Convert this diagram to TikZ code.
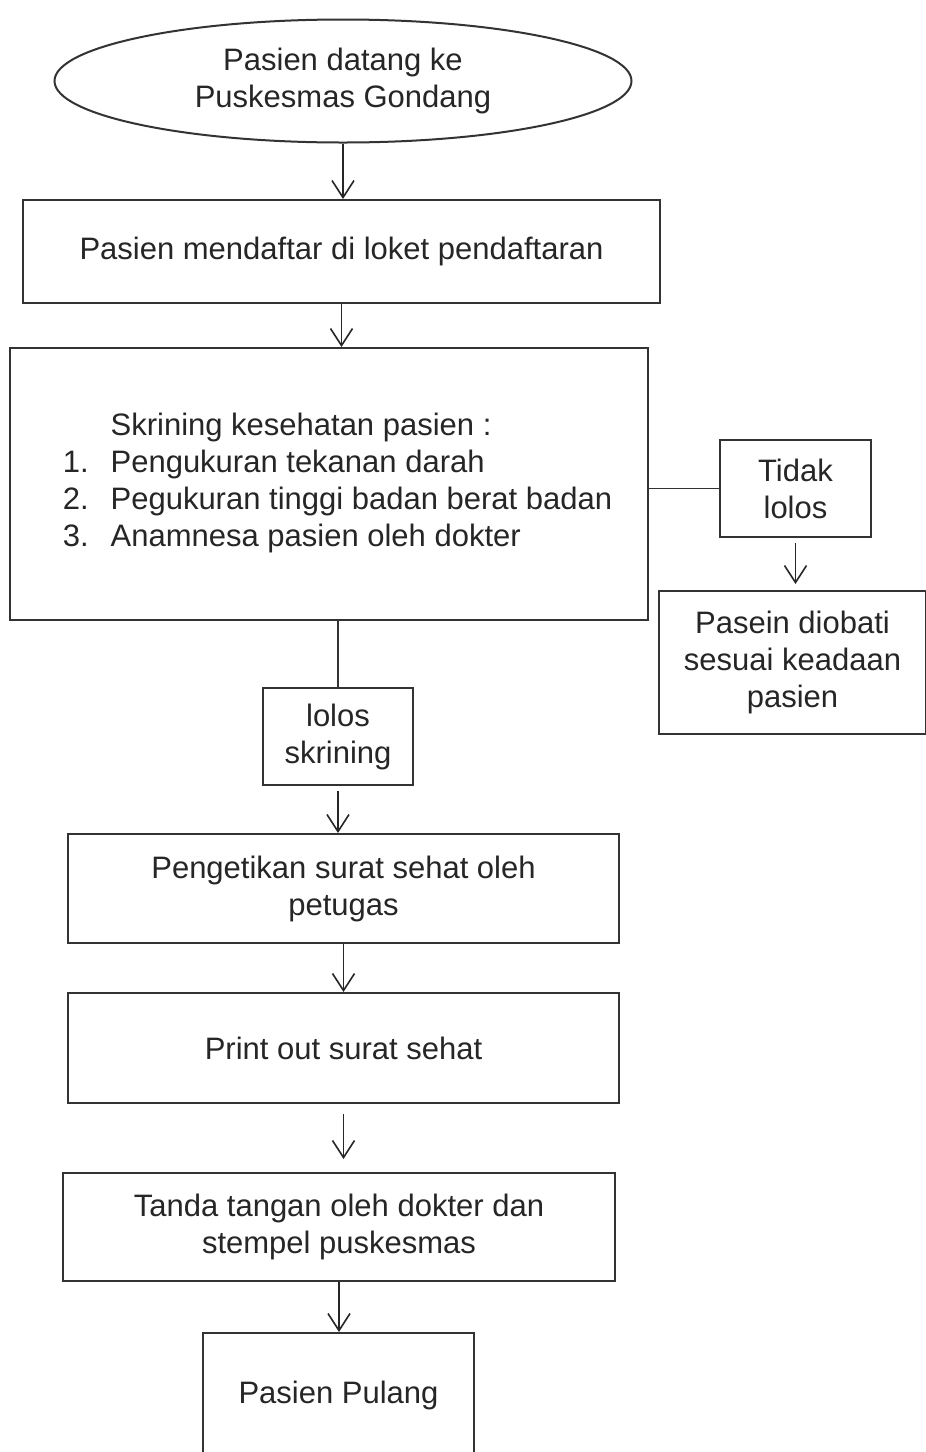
\documentclass[tikz,border=0pt]{standalone}
\usepackage{fontspec}
\setmainfont{Liberation Sans}
\usetikzlibrary{shapes.geometric,arrows.meta}
\begin{document}
\begin{tikzpicture}[x=1pt,y=-1pt,
 every node/.style={font=\fontsize{31}{37}\selectfont, text=black!85},
 box/.style={draw=black!80, line width=2pt, align=center, inner sep=0pt},
 arr/.style={draw=black!85, line width=1.6pt, -{Straight Barb[length=17pt,width=22pt,line width=1.6pt]}},
 conn/.style={draw=black!80, line width=1.8pt}]
\path[use as bounding box, clip] (0,0) rectangle (926,1452);
\fill[white] (0,0) rectangle (926,1452);
\node[box, ellipse, minimum width=577pt, minimum height=123pt] (e) at (343,81) {Pasien datang ke\\Puskesmas Gondang};
\node[box, minimum width=637pt, minimum height=103pt] (b1) at (341.5,251.5) {Pasien mendaftar di loket pendaftaran};
\node[box, minimum width=638pt, minimum height=272pt] (b2) at (329,484) {\hspace*{17pt}\begin{tabular}{@{}r@{\hspace{22pt}}l@{}}
 & Skrining kesehatan pasien :\\
1. & Pengukuran tekanan darah\\
2. & Pegukuran tinggi badan berat badan\\
3. & Anamnesa pasien oleh dokter
\end{tabular}};
\node[box, minimum width=151pt, minimum height=97pt] (t) at (795.5,488.5) {Tidak\\lolos};
\node[box, minimum width=267pt, minimum height=143pt] (p) at (792.5,662.5) {Pasein diobati\\sesuai keadaan\\pasien};
\node[box, minimum width=150pt, minimum height=97pt] (l) at (338,736.5) {lolos\\skrining};
\node[box, minimum width=551pt, minimum height=109pt] (b3) at (343.5,888.5) {Pengetikan surat sehat oleh\\petugas};
\node[box, minimum width=551pt, minimum height=110pt] (b4) at (343.5,1048) {Print out surat sehat};
\node[box, minimum width=552pt, minimum height=108pt] (b5) at (339,1227) {Tanda tangan oleh dokter dan\\stempel puskesmas};
\node[box, minimum width=271pt, minimum height=124pt] (b6) at (338.5,1395) {Pasien Pulang};

\draw[arr] (e.south) -- (e.south |- b1.north);
\draw[arr] (b1.south) -- (b1.south |- b2.north);
\draw[conn] (t.west -| b2.east) -- (t.west);
\draw[arr, shorten <=5pt, shorten >=6pt] (t.south) -- (t.south |- p.north);
\draw[conn] (b2.south -| l.north) -- (l.north);
\draw[arr, shorten <=5pt] (l.south) -- (l.south |- b3.north);
\draw[arr] (b3.south) -- (b4.north);
\draw[arr, shorten <=10pt, shorten >=13pt] (b4.south) -- (b4.south |- b5.north);
\draw[arr] (b5.south) -- (b5.south |- b6.north);
\end{tikzpicture}
\end{document}
